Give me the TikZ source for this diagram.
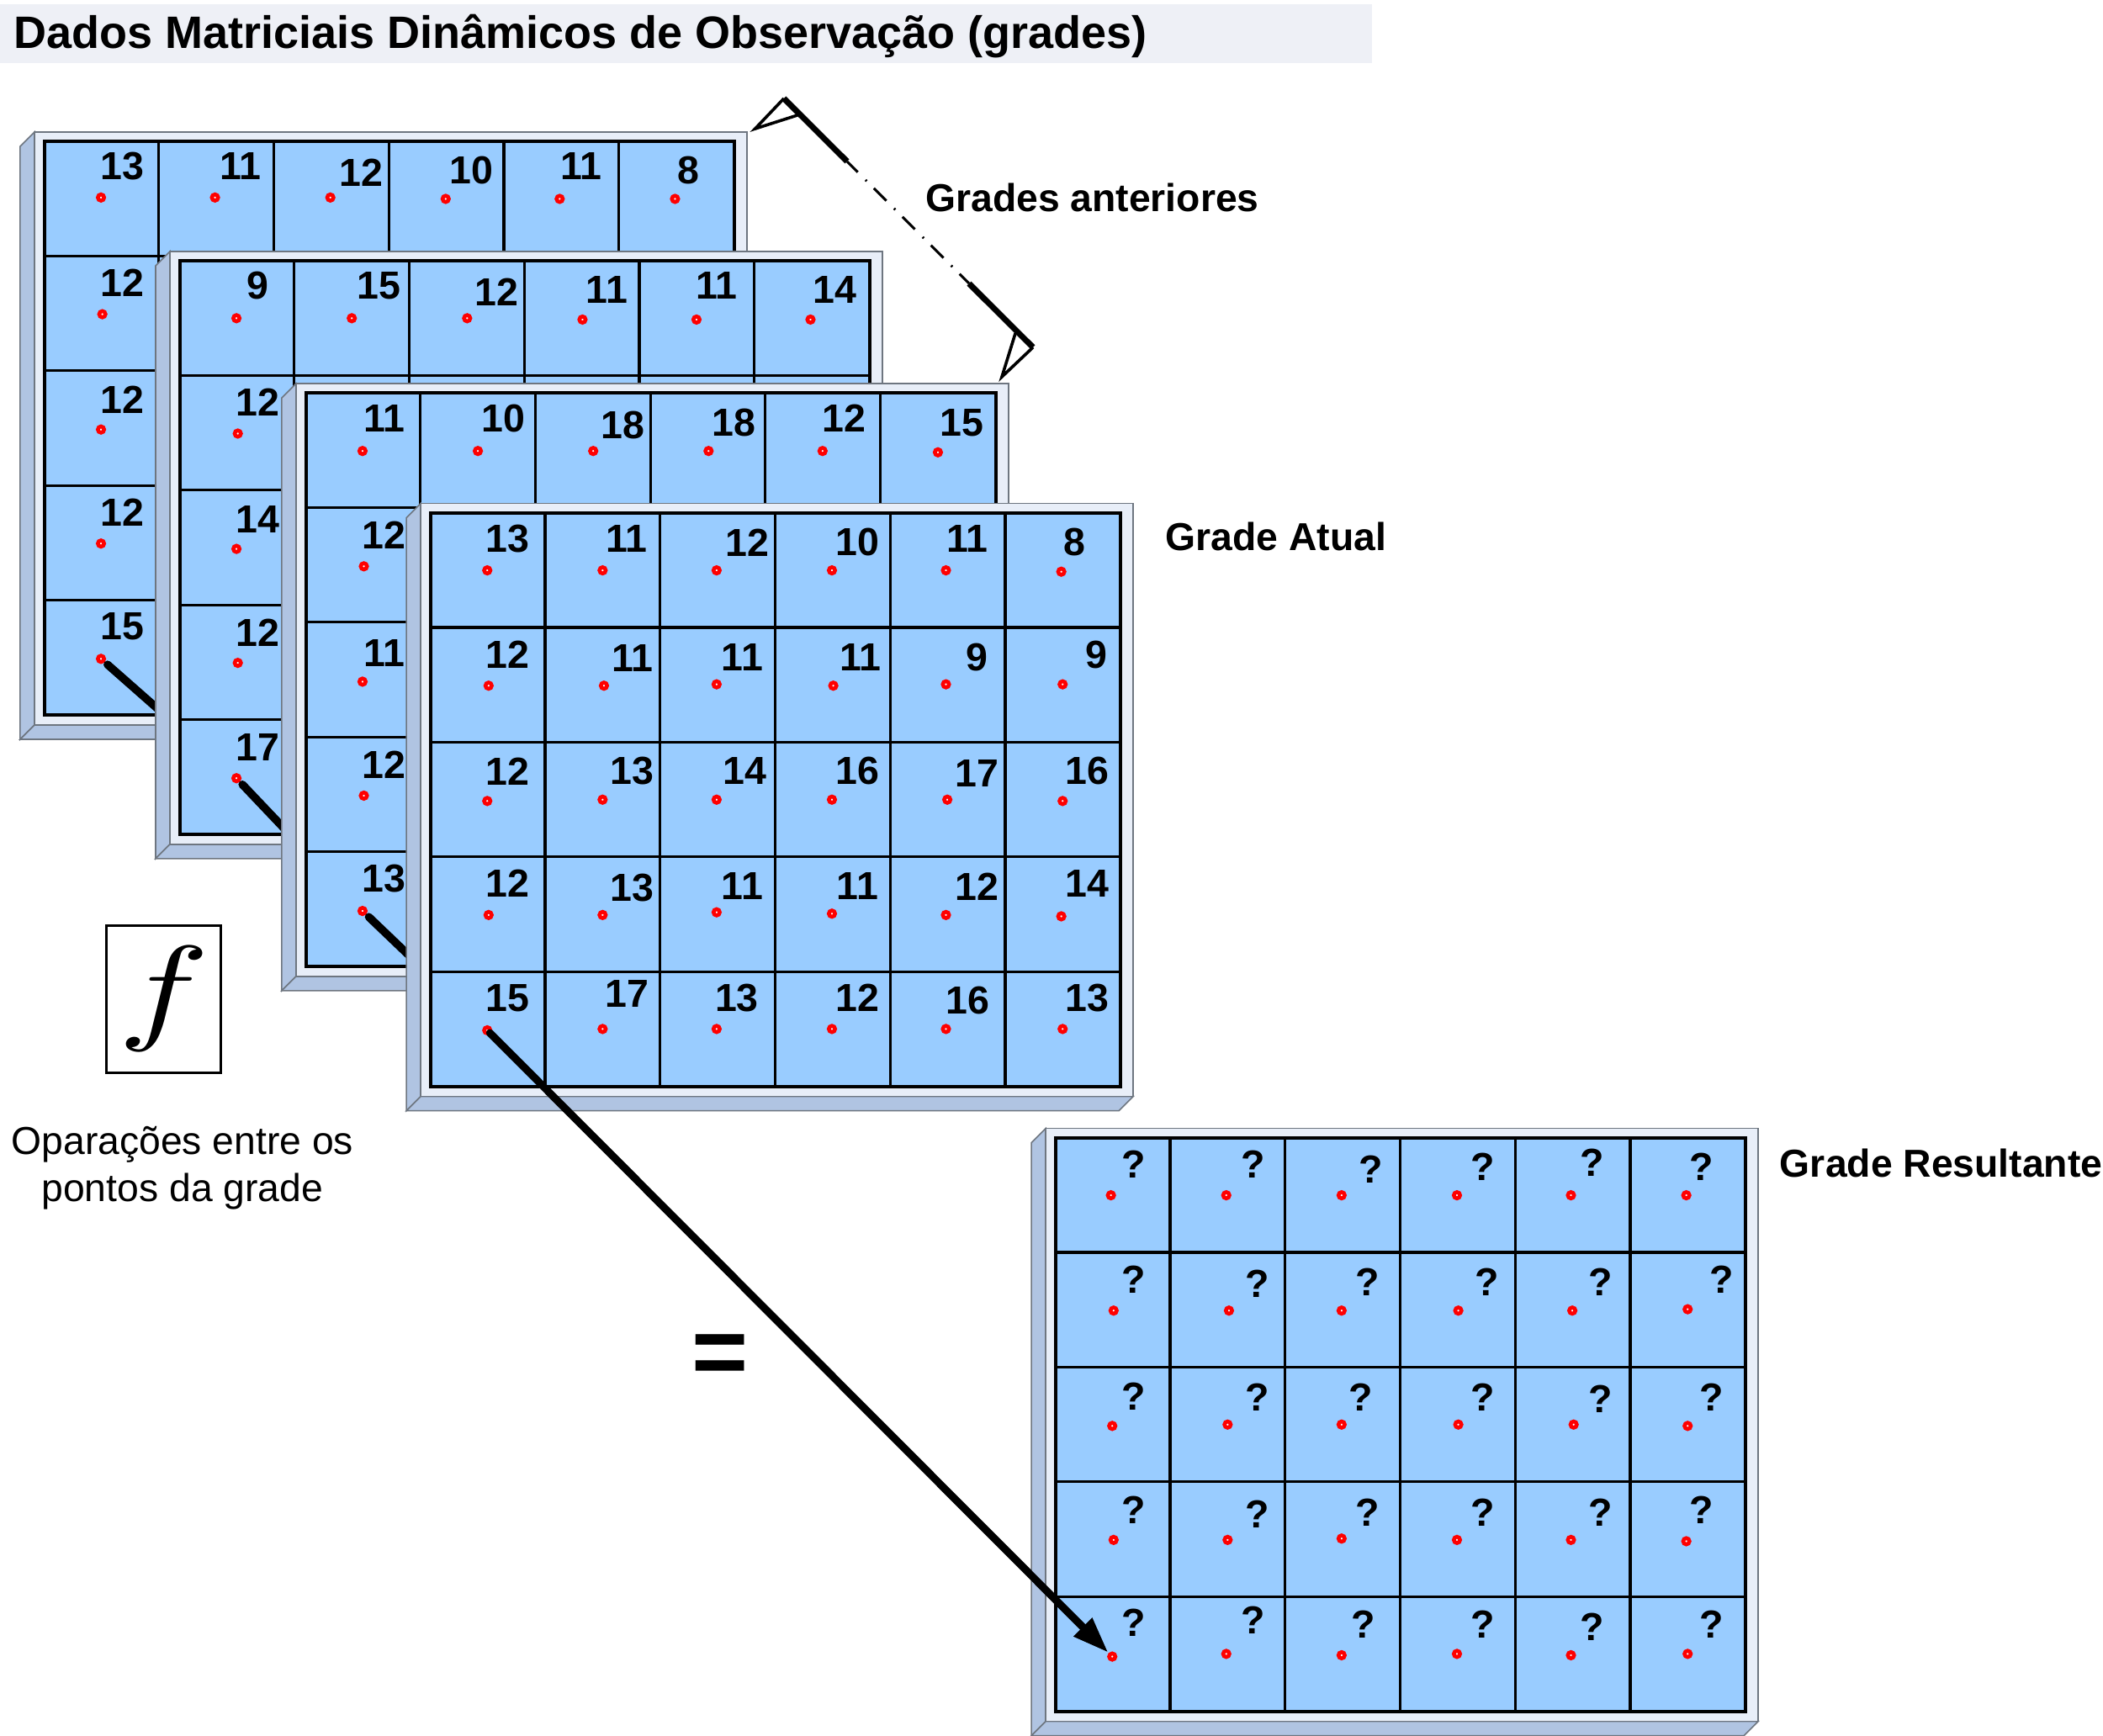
\documentclass[tikz,border=0pt]{standalone}
\usepackage{graphicx}
\usepackage{fontspec}
\setmainfont{Liberation Sans}
\usetikzlibrary{arrows.meta}
\definecolor{cellblue}{HTML}{99CCFF}
\definecolor{framelt}{HTML}{E8EEF8}
\definecolor{sideblue}{HTML}{B0C4E2}
\definecolor{edgegray}{HTML}{6E7680}
\definecolor{titlebg}{HTML}{EEF0F6}
\tikzset{
  num/.style={inner sep=0pt,font=\fontsize{46.5}{46.5}\selectfont\bfseries},
  reddot/.style={circle,draw=red,fill=white,line width=4.6pt,minimum size=7.4pt,inner sep=0pt},
  label/.style={inner sep=0pt,anchor=base west,font=\fontsize{46.3}{46.3}\selectfont\bfseries},
  plain/.style={inner sep=0pt,anchor=base,font=\fontsize{46.3}{46.3}\selectfont},
  frontface/.style={fill=framelt,draw=edgegray,line width=1.6pt},
  sideface/.style={fill=sideblue,draw=edgegray,line width=1.6pt},
  link/.style={line width=9.5pt,line cap=round,shorten <=11pt},
}
% #1 x offset, #2 y offset (display units)
\newcommand{\gridpanel}[2]{%
  \begin{scope}[shift={(#1,#2)}]
    \path[sideface] (25.7,98.5) -- (15,109.2) -- (15,551.3) -- (25.7,540.6) -- cycle;
    \path[sideface] (25.7,540.6) -- (15,551.3) -- (546.3,551.3) -- (557,540.6) -- cycle;
    \path[frontface] (25.7,98.5) rectangle (557,540.6);
    \fill[cellblue] (33,105.4) rectangle (547.6,533.1);
    \foreach \k in {1,...,5}{\draw[line width=3.2pt] ({32.6+85.77*\k},105.4) -- ({32.6+85.77*\k},533.1);}
    \foreach \k in {1,...,4}{\draw[line width=3.2pt] (33,{105.4+85.54*\k}) -- (547.6,{105.4+85.54*\k});}
    \draw[line width=4pt] (33,105.4) rectangle (547.4,533.1);
  \end{scope}}
\newcommand{\valset}[2]{%
  \foreach \t/\a/\b/\c/\d [count=\i] in {#2}{%
    \node[num] (#1v\i) at ({\a+0.4},\b) {\t};
    \node[reddot] (#1d\i) at ({\c+0.3},{\d+0.3}) {};
  }}
\begin{document}
\begin{tikzpicture}[x=1.5944pt,y=-1.5944pt]
\useasboundingbox (0,0) rectangle (1568,1294);
\fill[white] (0,0) rectangle (1568,1294);
% title
\fill[titlebg] (0,3) rectangle (1023,47);
\node[inner sep=0pt,anchor=base west,font=\fontsize{54}{54}\selectfont\bfseries] (title) at (10,36) {Dados Matriciais Dinâmicos de Observação (grades)};
% connector anchors
\coordinate (p1) at (75,491);
\coordinate (p2) at (176,580);
\coordinate (p3) at (270,679);
\coordinate (p4) at (363,768);
\coordinate (p5) at (829,1235);
% bracket
\coordinate (bt) at (584.5,73.4);
\coordinate (bta) at (563,96);
\coordinate (btb) at (594.6,85.9);
\coordinate (bte) at (631.6,120.4);
\coordinate (bb) at (770.2,259);
\coordinate (bba) at (747,281);
\coordinate (bbb) at (757.1,248.4);
\coordinate (bbe) at (722.5,211.4);
\draw[line width=3.6pt,line join=miter] (btb) -- (bta) -- (bt);
\draw[line width=3.6pt,line join=miter] (bbb) -- (bba) -- (bb);
\draw[line width=7pt] (bt) -- (bte);
\draw[line width=7pt] (bb) -- (bbe);
\draw[line width=3pt,dash pattern=on 21pt off 13pt on 2pt off 12pt,dash phase=3pt] (bte) -- (bbe);
% grid 1
\gridpanel{0}{0}
\valset{a}{13/91/124/75/147,11/179/124/160/147,12/269/129/246/147,10/351/127/332/148,11/433/124/417/148,8/513/127/503/148,12/91/211/76/234,12/91/298/75/320,12/91/382/75/405,15/91/467/75/491}
\draw[link] (p1) -- (p2);
% grid 2
\gridpanel{101}{89}
\valset{b}{9/192/213/176/237,15/282/213/262/237,12/370/218/348/237,11/452/216/434/238,11/534/213/519/238,14/622/216/604/238,12/192/300/177/323,14/192/387/176/409,12/192/472/177/494,17/192/557/176/580}
\draw[link] (p2) -- (p3);
% grid 3
\gridpanel{195}{187.5}
\valset{c}{11/286/312/270/336,10/375/312/356/336,18/464/317/442/336,18/547/315/528/336,12/629/312/613/336,15/717/315/699/337,12/286/399/271/422,11/286/487/270/508,12/286/570/271/593,13/286/655/270/679}
\draw[link] (p3) -- (p4);
% grid 4
\gridpanel{288}{277}
\valset{d}{13/378/402/363/425,11/467/402/449/425,12/557/405/534/425,10/639/404/620/425,11/721/402/705/425,8/801/404/791/426,
12/378/488/364/511,11/471/491/450/511,11/553/490/534/510,11/641/490/621/511,9/728/490/705/510,9/817/488/792/510,
12/378/575/363/597,13/471/575/449/596,14/555/575/534/596,16/639/575/620/596,17/728/577/706/596,16/810/575/792/597,
12/378/659/364/682,13/471/662/449/682,11/553/661/534/680,11/639/661/620/681,12/728/661/705/682,14/810/659/791/683,
15/378/744/363/768,17/467/741/449/767,13/549/744/534/767,12/639/744/620/767,16/721/746/705/767,13/810/744/792/767}
% grid 5
\gridpanel{754}{743}
\valset{e}{?/845/868/828/891,?/934/868/914/891,?/1022/872/1000/891,?/1105/870/1086/891,?/1187/867/1171/891,?/1268/870/1257/891,
?/845/954/830/977,?/937/957/916/977,?/1019/956/1000/977,?/1108/956/1087/977,?/1193/956/1172/977,?/1283/954/1258/976,
?/845/1041/829/1063,?/937/1042/915/1062,?/1014/1042/1000/1062,?/1105/1042/1087/1062,?/1193/1043/1173/1062,?/1276/1042/1258/1063,
?/845/1126/830/1148,?/937/1129/915/1148,?/1019/1128/1000/1147,?/1105/1128/1086/1148,?/1193/1128/1171/1148,?/1268/1126/1257/1149,
?/845/1210/829/1235,?/934/1208/914/1233,?/1016/1211/1000/1234,?/1105/1211/1086/1233,?/1187/1213/1171/1234,?/1276/1211/1258/1233}
% main arrow
\draw[line width=9pt,line cap=round,-{Triangle[length=43pt,width=29pt]},shorten <=5pt,shorten >=6pt] (p4) -- (p5);
% labels
\node[label] (lprev) at (690,158) {Grades anteriores};
\node[label] (lcur) at (869,410.5) {Grade Atual};
\node[label] (lres) at (1327,878) {Grade Resultante};
% function box
\node[draw,line width=2.6pt,minimum width=136pt,minimum height=175pt,inner sep=0pt] (fbox) at (122,745) {};
\node[inner sep=0pt] (fsym) at (fbox.center) {\scalebox{18.2}[14]{$f$}};
\node[plain] (op1) at (136,861) {Oparações entre os};
\node[plain] (op2) at (136,896) {pontos da grade};
\node[inner sep=0pt,font=\fontsize{115}{115}\selectfont\bfseries] (eq) at (537,1014) {=};
\end{tikzpicture}
\end{document}
